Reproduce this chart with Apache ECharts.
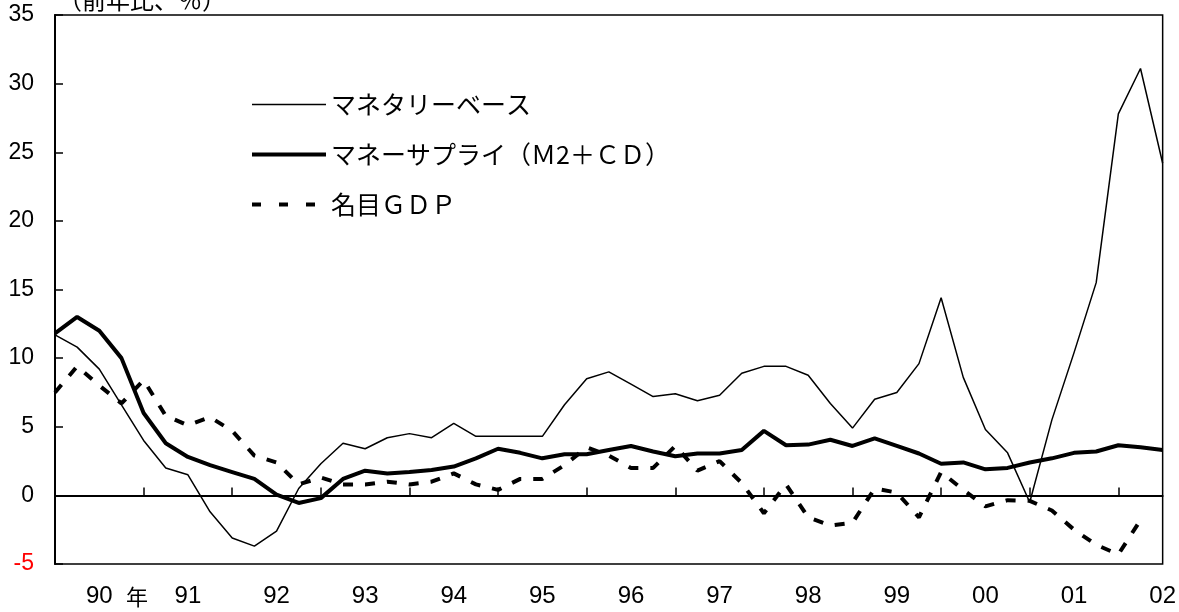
<!DOCTYPE html>
<html>
<head>
<meta charset="utf-8">
<script src="https://cdn.jsdelivr.net/npm/echarts@6/dist/echarts.min.js"></script>
<style>html,body{margin:0;padding:0;background:#fff;}#c{width:1179px;height:612px;}</style>
</head>
<body>
<div id="c"></div>
<script>
// Quarters 1990Q1 .. 2002Q3
var years = ['90','91','92','93','94','95','96','97','98','99','00','01','02'];
var categories = [];
years.forEach(function (y) { for (var q = 1; q <= 4; q++) categories.push(y + 'Q' + q); });
categories = categories.slice(0, 51);

var seriesNames = ['マネタリーベース', 'マネーサプライ（Ｍ2＋ＣＤ）', '名目ＧＤＰ'];

var monetaryBase = [11.7, 10.8, 9.2, 6.6, 4.0, 2.0, 1.5, -1.2, -3.1, -3.7,
  -2.6, 0.5, 2.3, 3.8, 3.4, 4.2, 4.5, 4.2, 5.25, 4.3,
  4.3, 4.3, 4.3, 6.6, 8.5, 9.0, 8.1, 7.2, 7.4, 6.9,
  7.3, 8.9, 9.4, 9.4, 8.75, 6.7, 4.9, 7.0, 7.5, 9.6,
  14.4, 8.6, 4.8, 3.1, -0.5, 5.5, 10.4, 15.5, 27.8, 31.1, 24.2];

var moneySupply = [11.8, 13.0, 12.0, 10.0, 6.0, 3.8, 2.8, 2.2, 1.7, 1.2,
  0.05, -0.55, -0.2, 1.2, 1.8, 1.6, 1.7, 1.85, 2.1, 2.7,
  3.4, 3.1, 2.7, 3.0, 3.0, 3.3, 3.6, 3.2, 2.85, 3.05,
  3.05, 3.3, 4.7, 3.65, 3.7, 4.05, 3.6, 4.15, 3.6, 3.05,
  2.3, 2.4, 1.9, 2.0, 2.4, 2.7, 3.1, 3.2, 3.65, 3.5, 3.3];

var nominalGDP = [7.5, 9.4, 8.0, 6.7, 8.4, 5.8, 5.1, 5.7, 4.7, 2.9,
  2.4, 0.8, 1.3, 0.8, 0.8, 1.0, 0.8, 1.0, 1.6, 0.8,
  0.4, 1.2, 1.2, 2.2, 3.5, 2.9, 2.0, 2.0, 3.6, 1.8,
  2.5, 0.9, -1.3, 0.8, -1.6, -2.2, -2.0, 0.5, 0.2, -1.6,
  1.7, 0.4, -0.8, -0.35, -0.4, -1.1, -2.5, -3.6, -4.3, -1.8, null];

var unitLabel = '（前年比、％）';
var yearSuffix = '年';

var chart = echarts.init(document.getElementById('c'), null, {renderer: 'canvas'});
var numFont = 'Liberation Sans, Arial, sans-serif';
var jpFont = '"Noto Sans CJK JP", sans-serif';
var lineWidths = [1.5, 4, 4];
var lineTypes = ['solid', 'solid', [10, 12]];
var legendLineTypes = ['solid', 'solid', [9, 18]];

chart.setOption({
  animation: false,
  backgroundColor: '#fff',
  grid: {left: 55, right: 16, top: 15, bottom: 48, show: true, borderColor: '#000', borderWidth: 1.5, backgroundColor: 'transparent'},
  legend: {
    orient: 'vertical', left: 245, top: 87, itemWidth: 74, itemHeight: 14, itemGap: 25,
    data: seriesNames.map(function (n, i) {
      return {name: n, itemStyle: {opacity: 0},
        lineStyle: {width: lineWidths[i], type: legendLineTypes[i], color: '#000'}};
    }),
    textStyle: {fontSize: 25, color: '#000', fontFamily: jpFont}
  },
  xAxis: {
    type: 'category', data: categories, boundaryGap: false,
    axisLine: {lineStyle: {color: '#000', width: 2}},
    axisTick: {inside: true, length: 8, lineStyle: {color: '#000', width: 1.5},
      interval: function (i) { return i % 4 === 0; }},
    axisLabel: {
      interval: function (i) { return i % 4 === 2; },
      formatter: function (v, i) { return years[Math.floor(i / 4)]; },
      fontSize: 24, color: '#000', fontFamily: numFont, margin: 20
    },
    splitLine: {show: false}
  },
  yAxis: {
    type: 'value', min: -5, max: 35, interval: 5,
    axisLine: {show: true, lineStyle: {color: '#000', width: 2}},
    axisTick: {show: true, inside: true, length: 8, lineStyle: {color: '#000', width: 1.5}},
    axisLabel: {fontSize: 23, fontFamily: numFont, margin: 21,
      color: function (v) { return Number(v) < 0 ? '#ff0000' : '#000'; }},
    splitLine: {show: false}
  },
  graphic: [
    {type: 'text', left: 58, top: -12, style: {text: unitLabel, font: '24px ' + jpFont, fill: '#000'}},
    {type: 'text', left: 126, top: 586, style: {text: yearSuffix, font: '22px ' + jpFont, fill: '#000'}}
  ],
  series: [
    {name: seriesNames[0], type: 'line', data: monetaryBase, symbol: 'none', showSymbol: false,
      lineStyle: {color: '#000', width: lineWidths[0]}, itemStyle: {color: '#000'}, z: 3,
      markLine: {silent: true, symbol: 'none', label: {show: false},
        lineStyle: {color: '#000', width: 1.5, type: 'solid'}, data: [{yAxis: 0}]}},
    {name: seriesNames[1], type: 'line', data: moneySupply, symbol: 'none', showSymbol: false,
      lineStyle: {color: '#000', width: lineWidths[1]}, itemStyle: {color: '#000'}, z: 4},
    {name: seriesNames[2], type: 'line', data: nominalGDP, symbol: 'none', showSymbol: false,
      lineStyle: {color: '#000', width: lineWidths[2], type: lineTypes[2]}, itemStyle: {color: '#000'}, z: 2}
  ]
});
</script>
</body>
</html>
